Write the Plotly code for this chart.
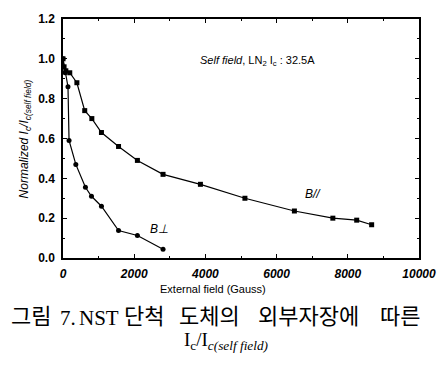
import plotly.graph_objects as go

# B// (parallel field) series
bpar_x = [0, 30, 80, 190, 390, 610, 810, 1080, 1560, 2090, 2810, 3860, 5110, 6500, 7580, 8250, 8670]
bpar_y = [1.0, 0.96, 0.94, 0.93, 0.88, 0.74, 0.70, 0.63, 0.56, 0.49, 0.42, 0.37, 0.30, 0.236, 0.20, 0.19, 0.167]

# B⊥ (perpendicular field) series
bperp_x = [0, 60, 140, 170, 360, 630, 800, 1080, 1560, 2090, 2810]
bperp_y = [1.0, 0.93, 0.86, 0.59, 0.47, 0.355, 0.31, 0.26, 0.138, 0.113, 0.044]

x_ticks = [0, 2000, 4000, 6000, 8000, 10000]
y_ticks = [0.0, 0.2, 0.4, 0.6, 0.8, 1.0, 1.2]

caption_words = ["그림", "7.", "NST", "단척", "도체의", "외부자장에", "따른"]

fig = go.Figure()
fig.add_trace(go.Scatter(x=bpar_x, y=bpar_y, mode="lines+markers",
                         line=dict(color="black", width=1.2),
                         marker=dict(symbol="square", size=5, color="black")))
fig.add_trace(go.Scatter(x=bperp_x, y=bperp_y, mode="lines+markers",
                         line=dict(color="black", width=1.2),
                         marker=dict(symbol="circle", size=5, color="black")))

axis_common = dict(showline=True, linecolor="black", linewidth=1.5, mirror="ticks",
                   ticks="inside", ticklen=4, tickwidth=1, tickcolor="black",
                   showgrid=False, zeroline=False, ticklabelstandoff=4,
                   tickfont=dict(family="Liberation Sans", size=12, color="black"))

fig.update_xaxes(range=[0, 10000], tickvals=x_ticks, ticktext=[f"<i><b>{v}</b></i>" for v in x_ticks],
                 minor=dict(ticks="inside", ticklen=2, dtick=1000, tickcolor="black"),
                 **axis_common)
fig.update_yaxes(range=[0, 1.2], tickvals=y_ticks, ticktext=[f"<b>{v:.1f}</b>" for v in y_ticks],
                 minor=dict(ticks="inside", ticklen=2, dtick=0.1, tickcolor="black"),
                 **axis_common)

ann_font = dict(family="Liberation Sans", size=11, color="black")
fig.add_annotation(x=3800, y=0.99, xref="x", yref="y", xanchor="left", showarrow=False,
                   text="<i>Self field</i>, LN<sub>2</sub> I<sub>c</sub> : 32.5A", font=ann_font)
fig.add_annotation(x=7030, y=0.32, xref="x", yref="y", showarrow=False,
                   text="<i>B//</i>", font=dict(family="Liberation Sans", size=12, color="black"))
fig.add_annotation(x=2690, y=0.148, xref="x", yref="y", showarrow=False,
                   text="<i>B⊥</i>", font=dict(family="Liberation Sans", size=12, color="black"))

# y-axis title
fig.add_annotation(x=-0.135, y=0.5, xref="paper", yref="paper", showarrow=False, textangle=-90,
                   text="<i>Normalized I<sub>c</sub>/I<sub>c(self field)</sub></i>",
                   font=dict(family="Liberation Sans", size=12, color="black"))
# x-axis title
fig.add_annotation(x=0.42, y=-0.165, xref="paper", yref="paper", showarrow=False,
                   text="External field (Gauss)", font=ann_font)

# Korean caption, word by word (wide spacing as in the reference)
word_left_px = [8, 58, 77, 123, 178, 258, 382]
for word, px in zip(caption_words, word_left_px):
    fam = "Liberation Serif" if word in ("7.", "NST") else "Noto Sans CJK KR"
    fig.add_annotation(x=(px - 63) / 360, y=-0.31, xref="paper", yref="paper", xanchor="left",
                       showarrow=False, text=word,
                       font=dict(family=fam, size=22 if fam != "Liberation Serif" else 21,
                                 color="black"))
fig.add_annotation(x=(228 - 63) / 360, y=-0.405, xref="paper", yref="paper", showarrow=False,
                   text="I<sub>c</sub>/I<sub><i>c(self field)</i></sub>",
                   font=dict(family="Liberation Serif", size=19, color="black"))

fig.update_layout(width=448, height=365, margin=dict(l=63, r=25, t=14, b=107),
                  plot_bgcolor="white", paper_bgcolor="white", showlegend=False)

fig.write_html("out.html")
